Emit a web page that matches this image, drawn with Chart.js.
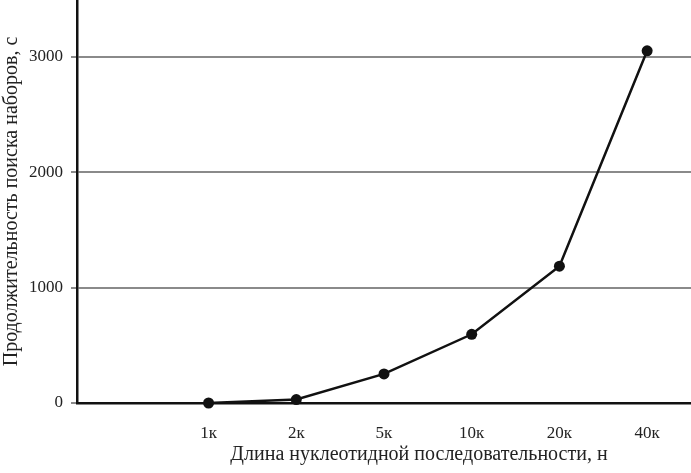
<!DOCTYPE html>
<html>
<head>
<meta charset="utf-8">
<script src="https://cdn.jsdelivr.net/npm/chart.js@4/dist/chart.umd.min.js"></script>
<style>
  body { margin: 0; background: #fff; }
  canvas { display: block; }
</style>
</head>
<body>
<canvas id="chart" width="691" height="473"></canvas>
<script>
// Data
const categories = ['', '1к', '2к', '5к', '10к', '20к', '40к'];
const durations = [null, 0, 30, 252, 595, 1185, 3050];
const yTicks = [0, 1000, 2000, 3000];
const xTitle = 'Длина нуклеотидной последовательности, н';
const yTitle = 'Продолжительность поиска наборов, с';

const serif = '"Liberation Serif", "DejaVu Serif", serif';

// x title is drawn by hand, it sits right of the plot centre
const xTitlePlugin = {
    id: 'xTitle',
    afterDraw(chart) {
        const c = chart.ctx;
        c.save();
        c.font = '20px ' + serif;
        c.fillStyle = '#222';
        c.textAlign = 'center';
        c.textBaseline = 'middle';
        c.fillText(xTitle, 419, 455);
        c.restore();
    }
};

const ctx = document.getElementById('chart').getContext('2d');
new Chart(ctx, {
    type: 'line',
    data: {
        labels: categories,
        datasets: [{
            data: durations,
            borderColor: '#111',
            backgroundColor: '#111',
            borderWidth: 2.5,
            pointRadius: 5.5,
            pointBackgroundColor: '#111',
            pointBorderWidth: 0,
            tension: 0,
            clip: false
        }]
    },
    options: {
        responsive: false,
        animation: false,
        layout: { autoPadding: false, padding: 0 },
        plugins: {
            legend: { display: false },
            tooltip: { enabled: false }
        },
        scales: {
            x: {
                type: 'category',
                offset: true,
                grid: { display: false },
                border: { display: true, color: '#111', width: 2.5 },
                ticks: {
                    font: { family: serif, size: 17 },
                    color: '#222',
                    padding: 12,
                    maxRotation: 0,
                    autoSkip: false
                },
                afterFit(scale) {
                    scale.height = 70;
                    scale.paddingLeft = 0;
                    scale.paddingRight = 0;
                }
            },
            y: {
                min: 0,
                max: 3490,
                grid: {
                    color: '#8a8a8a',
                    lineWidth: 2,
                    tickLength: 6,
                    drawTicks: true
                },
                border: { display: true, color: '#111', width: 2.5 },
                ticks: {
                    font: { family: serif, size: 17 },
                    color: '#222',
                    padding: 8,
                    callback: v => String(v)
                },
                afterBuildTicks(scale) {
                    scale.ticks = yTicks.map(v => ({ value: v }));
                },
                title: {
                    display: true,
                    text: yTitle,
                    font: { family: serif, size: 20 },
                    color: '#222',
                    padding: { top: 0, bottom: 0 }
                },
                afterFit(scale) {
                    scale.width = 77;
                    scale.paddingTop = 0;
                    scale.paddingBottom = 0;
                }
            }
        }
    },
    plugins: [xTitlePlugin]
});
</script>
</body>
</html>
